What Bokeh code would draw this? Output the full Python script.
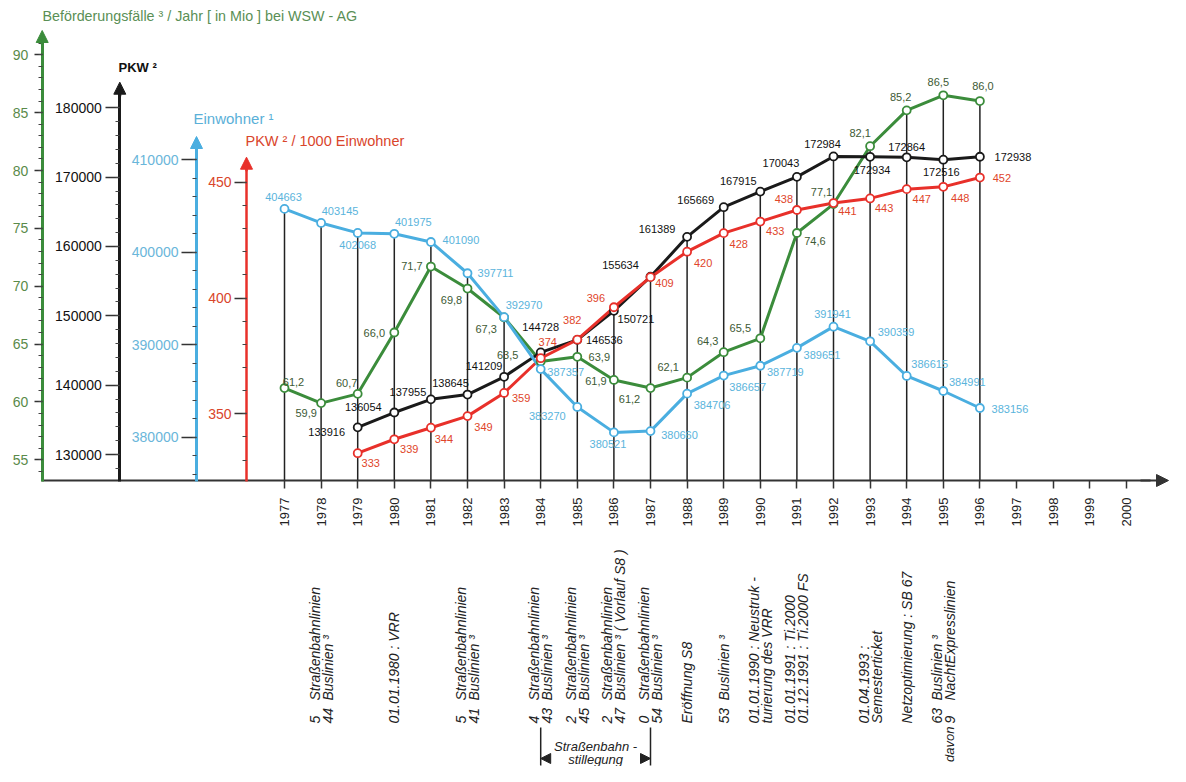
import math
from bokeh.plotting import figure
from bokeh.models import (Range1d, LinearAxis, SingleIntervalTicker, FixedTicker,
                          BasicTickFormatter, Arrow, NormalHead, ColumnDataSource, Label)
from bokeh.core.properties import value
from bokeh.embed import file_html
from bokeh.resources import INLINE

# ---------------- data ----------------
years = list(range(1977, 1997))
pkw_years = list(range(1979, 1997))
axis_years = list(range(1977, 2001))

befoerderungsfaelle = [61.2, 59.9, 60.7, 66.0, 71.7, 69.8, 67.3, 63.5, 63.9, 61.9,
                       61.2, 62.1, 64.3, 65.5, 74.6, 77.1, 82.1, 85.2, 86.5, 86.0]
pkw = [133916, 136054, 137955, 138645, 141209, 144728, 146536, 150721, 155634,
       161389, 165669, 167915, 170043, 172984, 172934, 172864, 172516, 172938]
einwohner = [404663, 403145, 402068, 401975, 401090, 397711, 392970, 387357, 383270,
             380521, 380660, 384706, 386657, 387719, 389651, 391941, 390359, 386615,
             384991, 383156]
pkw_je_1000 = [333, 339, 344, 349, 359, 374, 382, 396, 409, 420, 428, 433, 438, 441,
               443, 447, 448, 452]

title_green = "Beförderungsfälle ³ / Jahr [ in Mio ] bei WSW - AG"
title_black = "PKW ²"
title_blue = "Einwohner ¹"
title_red = "PKW ² / 1000 Einwohner"

annotation_years = [1978, 1980, 1982, 1984, 1985, 1986, 1987, 1988, 1989, 1990, 1991,
                    1993, 1994, 1995]
annotation_lines = [
    [("5", "Straßenbahnlinien"), ("44", "Buslinien ³")],
    [("", "01.01.1980 : VRR")],
    [("5", "Straßenbahnlinien"), ("41", "Buslinien ³")],
    [("4", "Straßenbahnlinien"), ("43", "Buslinien ³")],
    [("2", "Straßenbahnlinien"), ("45", "Buslinien ³")],
    [("2", "Straßenbahnlinien"), ("47", "Buslinien ³  ( Vorlauf S8 )")],
    [("0", "Straßenbahnlinien"), ("54", "Buslinien ³")],
    [("", "Eröffnung S8")],
    [("53", "Buslinien ³")],
    [("", "01.01.1990 : Neustruk -"), ("", "turierung des VRR")],
    [("", "01.01.1991 : Ti.2000"), ("", "01.12.1991 : Ti.2000 FS")],
    [("", "01.04.1993 :"), ("", "Semesterticket")],
    [("", "Netzoptimierung : SB 67")],
    [("63", "Buslinien ³"), ("9", "NachtExpresslinien")],
]
davon_text = "davon"
bracket_years = [1984, 1987]
bracket_text = ["Straßenbahn -", "stillegung"]

# ---------------- layout / style ----------------
W, H = 1170, 766

GREEN_CAL = (90, 54.3, 55, 459.3)
BLACK_CAL = (180000, 107.3, 130000, 454.0)
BLUE_CAL = (410000, 159.0, 380000, 436.7)
RED_CAL = (450, 181.7, 350, 413.3)
YEAR0_PX, YEAR_STEP = 284.0, 36.6
XAXIS_Y = 480

C_GREEN, C_BLACK, C_BLUE, C_RED = "#3b8c3b", "#1a1a1a", "#4aaee0", "#e8302a"


def to_canvas(v, cal):
    va, ya, vb, yb = cal
    return ya + (v - va) * (yb - ya) / (vb - va)


def from_canvas(y, cal):
    va, ya, vb, yb = cal
    return va + (y - ya) * (vb - va) / (yb - ya)


def yr_from_canvas(x):
    return 1977 + (x - YEAR0_PX) / YEAR_STEP


p = figure(width=W, height=H, x_range=Range1d(0, W), y_range=Range1d(H, 0),
           x_axis_location=None, y_axis_location=None, toolbar_location=None,
           output_backend="svg", min_border=0, outline_line_color=None,
           background_fill_color="white", border_fill_color="white")
p.min_border_left = p.min_border_right = p.min_border_top = p.min_border_bottom = 0
p.grid.grid_line_color = None
p.grid.visible = False

p.extra_x_ranges = {"years": Range1d(yr_from_canvas(0), yr_from_canvas(W))}
p.extra_y_ranges = {
    "green": Range1d(from_canvas(H, GREEN_CAL), from_canvas(0, GREEN_CAL)),
    "black": Range1d(from_canvas(H, BLACK_CAL), from_canvas(0, BLACK_CAL)),
    "blue": Range1d(from_canvas(H, BLUE_CAL), from_canvas(0, BLUE_CAL)),
    "red": Range1d(from_canvas(H, RED_CAL), from_canvas(0, RED_CAL)),
}

FONT = value("Liberation Sans")


def add_yaxis(name, cal, x, color, label_color, interval, tick_out, standoff, tip, lw):
    ax = LinearAxis(y_range_name=name, fixed_location=x,
                    ticker=SingleIntervalTicker(interval=interval, num_minor_ticks=5),
                    formatter=BasicTickFormatter(use_scientific=False),
                    bounds=(from_canvas(XAXIS_Y + 1, cal), from_canvas(tip + 8, cal)))
    ax.axis_line_color = color
    ax.axis_line_width = lw
    ax.major_tick_line_color = "#333333"
    ax.major_tick_line_width = 1.5
    ax.major_tick_out = tick_out
    ax.major_tick_in = 0
    ax.minor_tick_line_color = "#444444"
    ax.minor_tick_out = 4
    ax.minor_tick_in = 0
    ax.major_label_text_color = label_color
    ax.major_label_text_font = "Liberation Sans"
    ax.major_label_text_font_size = "14px"
    ax.major_label_standoff = standoff
    p.add_layout(ax, "left")
    p.add_layout(Arrow(end=NormalHead(size=12, fill_color=color, line_color=color),
                       x_start=x, y_start=tip + 14, x_end=x, y_end=tip,
                       line_color=color, line_width=lw))


add_yaxis("green", GREEN_CAL, 41.7, C_GREEN, "#5a8a4a", 5, 8, 6, 30, 3)
add_yaxis("black", BLACK_CAL, 119.3, C_BLACK, "#111111", 10000, 14, 4, 81.7, 3)
add_yaxis("blue", BLUE_CAL, 196.0, C_BLUE, "#6ab6da", 10000, 15, 3, 136, 3)
add_yaxis("red", RED_CAL, 246.0, C_RED, "#d9452b", 50, 12, 3, 156.7, 2.5)

# year axis
xax = LinearAxis(x_range_name="years", fixed_location=XAXIS_Y,
                 ticker=FixedTicker(ticks=axis_years, minor_ticks=[]),
                 bounds=(yr_from_canvas(41), yr_from_canvas(1150)))
xax.axis_line_color = "#333333"
xax.axis_line_width = 2
xax.major_tick_line_color = "#333333"
xax.major_tick_line_width = 1.5
xax.major_tick_out = 8
xax.major_tick_in = 0
xax.major_label_orientation = math.pi / 2
xax.major_label_standoff = 9
xax.major_label_text_font = "Liberation Sans"
xax.major_label_text_font_size = "13px"
xax.major_label_text_color = "#222222"
p.add_layout(xax, "below")
p.add_layout(Arrow(end=NormalHead(size=12, fill_color="#333333", line_color="#333333"),
                   x_start=1140, y_start=XAXIS_Y, x_end=1168, y_end=XAXIS_Y,
                   line_color="#333333", line_width=2))

# titles
for txt, xr, yr, col, fs in [(title_green, 42, 15, "#5a8f55", "14.3px"),
                             (title_black, 118, 67, "#111111", "13px"),
                             (title_blue, 193, 118, "#5ab0d8", "15px"),
                             (title_red, 245, 140, "#d9452b", "14.5px")]:
    p.add_layout(Label(x=xr, y=yr, text=txt, text_font="Liberation Sans",
                       text_font_size=fs, text_color=col, text_baseline="middle",
                       text_align="left",
                       text_font_style="bold" if txt == title_black else "normal"))

# vertical drop lines from the topmost point of each year
tops = []
for i, yv in enumerate(years):
    cands = [to_canvas(befoerderungsfaelle[i], GREEN_CAL), to_canvas(einwohner[i], BLUE_CAL)]
    if yv in pkw_years:
        j = pkw_years.index(yv)
        cands += [to_canvas(pkw[j], BLACK_CAL), to_canvas(pkw_je_1000[j], RED_CAL)]
    tops.append(min(cands))
p.segment(x0=years, y0=tops, x1=years, y1=[XAXIS_Y] * len(years), x_range_name="years",
          line_color="#222222", line_width=1.5)

# series
series = [
    ("green", years, befoerderungsfaelle, C_GREEN),
    ("black", pkw_years, pkw, C_BLACK),
    ("red", pkw_years, pkw_je_1000, C_RED),
    ("blue", years, einwohner, C_BLUE),
]
for name, xs, ys, col in series:
    p.line(xs, ys, x_range_name="years", y_range_name=name, line_color=col, line_width=3)
for name, xs, ys, col in series:
    p.scatter(xs, ys, x_range_name="years", y_range_name=name, marker="circle", size=8,
              fill_color="white", line_color=col, line_width=1.8)

# value labels (offsets in screen px)
green_off = [(9, -6), (-15, 10), (-11, -11), (-20, 0), (-19, -1), (-16, 11), (-18, 12),
             (-33, -6), (22, 0), (-18, 1), (-21, 11), (-19, -11), (-16, -11), (-20, -10),
             (18, 8), (-12, -12), (-10, -13), (-6, -13), (-5, -13), (3, -15)]
black_off = [(-31, 5), (-31, -6), (-23, -7), (-17, -12), (-20, -11), (0, -25), (27, 0),
             (22, 8), (-30, -12), (-30, -8), (-28, -7), (-22, -11), (-16, -14), (-11, -12),
             (2, 13), (0, -10), (-2, 12), (33, 0)]
red_off = [(13, 10), (15, 10), (13, 11), (16, 11), (17, 5), (7, -16), (-5, -20), (-18, -9),
           (14, 6), (16, 11), (15, 11), (15, 9), (-13, -11), (14, 8), (14, 10), (15, 10),
           (17, 11), (22, 0)]
blue_off = [(-1, -12), (19, -12), (0, 12), (19, -12), (30, -2), (28, 0), (20, -12), (25, 3),
            (-30, 9), (-6, 12), (29, 4), (25, 11), (24, 11), (25, 6), (25, 7), (-1, -13),
            (26, -9), (23, -12), (24, -9), (30, 1)]

label_specs = [
    ("green", years, befoerderungsfaelle, green_off, "#3d5a35",
     lambda v: f"{v:.1f}".replace(".", ",")),
    ("black", pkw_years, pkw, black_off, "#111111", lambda v: f"{v}"),
    ("red", pkw_years, pkw_je_1000, red_off, "#e0452a", lambda v: f"{v}"),
    ("blue", years, einwohner, blue_off, "#5ab4dc", lambda v: f"{v}"),
]
for name, xs, ys, offs, col, fmt in label_specs:
    src = ColumnDataSource(dict(x=xs, y=ys, t=[fmt(v) for v in ys],
                                dx=[o[0] for o in offs], dy=[o[1] for o in offs]))
    p.text(x="x", y="y", text="t", x_offset="dx", y_offset="dy", source=src,
           x_range_name="years", y_range_name=name, text_align="center",
           text_baseline="middle", text_font=FONT, text_font_size="11px",
           text_color=col)

# event annotations (rotated, reading upward)
NUM_Y = 723
WORD_Y = 700
ax_x, ax_xo, ax_y, ax_t = [], [], [], []
for yv, lines in zip(annotation_years, annotation_lines):
    n = len(lines)
    for k, (num, words) in enumerate(lines):
        xo = 0 if n == 1 else (-6.5 if k == 0 else 6.5)
        if num:
            ax_x.append(yv); ax_xo.append(xo); ax_y.append(NUM_Y); ax_t.append(num)
            ax_x.append(yv); ax_xo.append(xo); ax_y.append(WORD_Y); ax_t.append(words)
        else:
            ax_x.append(yv); ax_xo.append(xo); ax_y.append(NUM_Y); ax_t.append(words)
ann_src = ColumnDataSource(dict(x=ax_x, xo=ax_xo, y=ax_y, t=ax_t))
p.text(x="x", y="y", text="t", x_offset="xo", source=ann_src, x_range_name="years",
       angle=math.pi / 2, text_align="left", text_baseline="middle", text_font=FONT,
       text_font_size="14px", text_font_style="italic", text_color="#222222")
p.text(x=[annotation_years[-1]], y=[NUM_Y + 3], text=[davon_text], x_offset=6.5,
       x_range_name="years", angle=math.pi / 2, text_align="right",
       text_baseline="middle", text_font=FONT, text_font_size="13px",
       text_font_style="italic", text_color="#222222")

# bracket "Straßenbahnstillegung"
p.segment(x0=bracket_years, y0=[727, 727], x1=bracket_years, y1=[765, 765],
          x_range_name="years", line_color="#222222", line_width=1.5)
p.add_layout(Arrow(start=NormalHead(size=10, fill_color="#222222", line_color="#222222"),
                   end=NormalHead(size=10, fill_color="#222222", line_color="#222222"),
                   x_start=bracket_years[0], x_end=bracket_years[1], y_start=758, y_end=758,
                   x_range_name="years", line_alpha=0))
mid = sum(bracket_years) / 2
p.text(x=[mid, mid], y=[746, 759], text=bracket_text, x_range_name="years",
       text_align="center", text_baseline="middle", text_font=FONT,
       text_font_size="13px", text_font_style="italic", text_color="#222222")

open("out.html", "w").write(file_html(p, INLINE))
